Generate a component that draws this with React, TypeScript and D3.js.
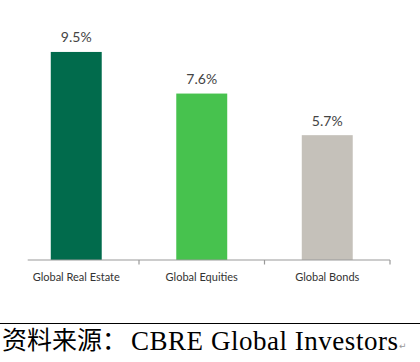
import React from "react";
import * as d3 from "d3";

// asset classes and their returns (%)
const categories = ["Global Real Estate", "Global Equities", "Global Bonds"];
const values = [9.5, 7.6, 5.7];
const valueLabels = ["9.5%", "7.6%", "5.7%"];
const colors = ["#016b4c", "#47c24e", "#c5c1ba"];

const width = 420;
const height = 362;
const baseline = 260;

export default function App() {
  const x = d3
    .scaleBand()
    .domain(categories)
    .range([13.5, 390])
    .paddingInner(0.594)
    .paddingOuter(0.297);

  const y = d3.scaleLinear().domain([0, 10]).range([baseline, 41]);

  // tick marks sit between bands and at the right end
  const step = x.step();
  const start = x.range()[0];
  const ticks = d3.range(1, categories.length + 1).map((i) => start + i * step);

  return (
    <svg
      width={width}
      height={height}
      style={{ position: "absolute", left: 0, top: 0, background: "#fff" }}
    >
      {categories.map((c, i) => (
        <g key={c}>
          <rect
            x={x(c)}
            y={y(values[i])}
            width={x.bandwidth()}
            height={baseline - y(values[i])}
            fill={colors[i]}
          />
          <text
            x={(x(c) ?? 0) + x.bandwidth() / 2}
            y={y(values[i]) - 9.5}
            textAnchor="middle"
            fontFamily="Lato, sans-serif"
            fontSize={14}
            fill="#444"
          >
            {valueLabels[i]}
          </text>
          <text
            x={(x(c) ?? 0) + x.bandwidth() / 2}
            y={280.5}
            textAnchor="middle"
            fontFamily="Lato, sans-serif"
            fontSize={11}
            fill="#333"
          >
            {c}
          </text>
        </g>
      ))}

      {/* category axis */}
      <line x1={27.7} x2={390} y1={baseline} y2={baseline} stroke="#999" strokeWidth={1.2} />
      {ticks.map((t) => (
        <line key={t} x1={t} x2={t} y1={baseline} y2={baseline + 4.5} stroke="#999" strokeWidth={1.2} />
      ))}

      {/* source note */}
      <line x1={0} x2={width} y1={323.5} y2={323.5} stroke="#000" strokeWidth={1} />
      <text x={2} y={349} fontFamily="'Noto Sans CJK SC', sans-serif" fontSize={25} fill="#000">
        资料来源：
      </text>
      <text
        x={131}
        y={350}
        fontFamily="'Liberation Serif', serif"
        fontSize={27}
        fill="#000"
        textLength={267}
        lengthAdjust="spacing"
      >
        CBRE Global Investors
      </text>
      <text x={399} y={349} fontFamily="DejaVu Sans, sans-serif" fontSize={9} fill="#999">
        ↵
      </text>
    </svg>
  );
}
